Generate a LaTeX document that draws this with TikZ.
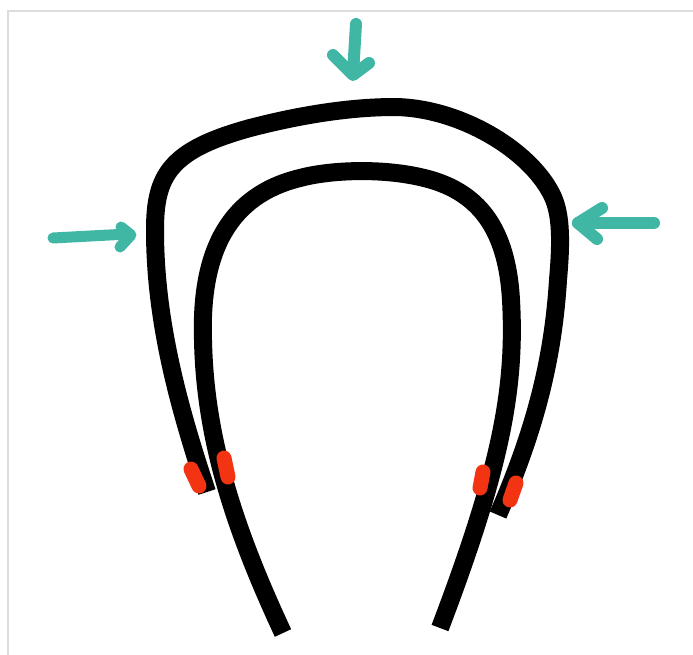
\documentclass[tikz,border=0pt]{standalone}
\definecolor{tealpush}{RGB}{64,182,165}
\definecolor{redclip}{RGB}{242,52,18}
\definecolor{framegray}{RGB}{221,221,221}
\begin{document}
\begin{tikzpicture}[x=1pt,y=-1pt,
  band/.style={line width=18pt, black, line cap=butt, line join=round},
  push/.style={line width=12pt, color=tealpush, line cap=round, line join=round},
  clipmark/.style={line width=15pt, color=redclip, line cap=round}]
\useasboundingbox (0,0) rectangle (693,655);
\fill[white] (0,0) rectangle (693,655);
\draw[framegray, line width=1.5pt] (8,655) -- (8,11) -- (693,11);
% outer band
\draw[band] (207,492) .. controls (178,405) and (155,320) .. (155,230)
  .. controls (155,175) and (170,150) .. (250,128)
  .. controls (300,115) and (350,107) .. (395,107)
  .. controls (460,108) and (530,150) .. (552,195)
  .. controls (562,215) and (561,245) .. (558,280)
  .. controls (553,360) and (535,430) .. (498,515);
% inner band
\draw[band] (283,633) .. controls (235,530) and (205,440) .. (203,340)
  .. controls (200,250) and (230,195) .. (300,178)
  .. controls (330,170) and (380,168) .. (420,177)
  .. controls (480,190) and (507,230) .. (511,300)
  .. controls (516,390) and (500,470) .. (440,628);
% clips
\draw[clipmark] (191,469) -- (199,486);
\draw[clipmark] (224,458) -- (228,477);
\draw[clipmark] (483,472) -- (480,488);
\draw[clipmark] (516,483) -- (510,500);
% arrows
\draw[push] (356,24) -- (353,74);
\draw[push] (333,55) -- (353,75) -- (369,63);
\draw[push] (654,223) -- (578,223);
\draw[push] (602,208) -- (578,223) -- (597,239);
\draw[push, line width=11pt] (53,238) -- (128,234);
\draw[push, line width=11pt] (121,227) -- (131,235) -- (120,247);
\end{tikzpicture}
\end{document}
